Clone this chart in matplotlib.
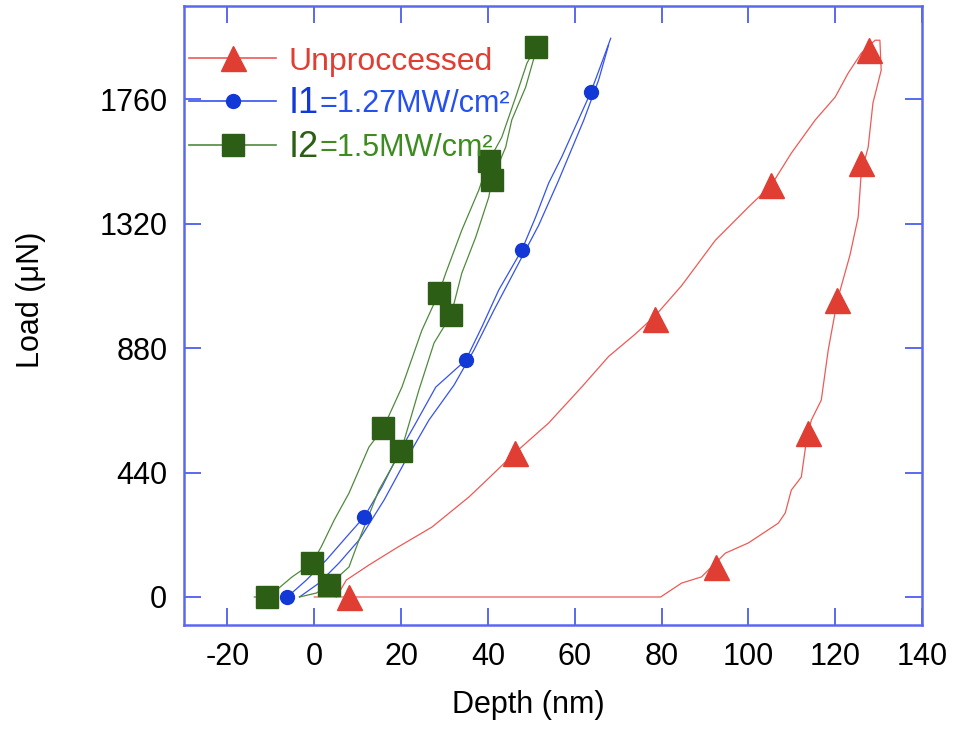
import matplotlib
matplotlib.use("Agg")
import matplotlib.pyplot as plt
from matplotlib.lines import Line2D
from matplotlib.transforms import IdentityTransform

plt.rcParams['font.family'] = ['Liberation Sans', 'DejaVu Sans']

# ---------------- data ----------------
# Unprocessed: loading, unloading, then baseline
red_x = [5.1, 7.4, 12.6, 18.9, 27.1, 35.6, 40.2, 46.2, 54.0, 61.6, 67.8, 74.0, 78.6,
         84.6, 92.4, 100.0, 105.3, 109.9, 115.4, 120.0, 123.0, 126.0, 129.2,
         130.3, 130.6, 128.7, 127.6, 126.0, 125.3, 123.4, 120.5, 118.4, 116.8, 114.5,
         113.3, 112.2, 109.9, 108.5, 106.9, 100.0, 94.7, 89.2, 84.6, 79.8, 40.0, 0.0]
red_y = [0, 60, 113, 173, 247, 353, 420, 509, 615, 742, 850, 930, 995,
         1100, 1261, 1378, 1456, 1569, 1686, 1767, 1852, 1922, 1968,
         1968, 1862, 1746, 1590, 1498, 1343, 1208, 1049, 873, 696, 625,
         544, 424, 378, 297, 261, 191, 155, 71, 49, 0, 0, 0]
red_mx = [8.0, 46.2, 78.6, 105.3, 127.8, 126.0, 120.5, 113.8, 92.6]
red_my = [0, 509, 983, 1456, 1933, 1534, 1049, 580, 106]

# I1 = 1.27 MW/cm2 : two branches
blue_x1 = [-6.2, -1.8, 2.8, 7.4, 11.5, 15.6, 19.5, 23.4, 28.0, 34.9, 38.6, 42.5,
           47.8, 51.0, 54.0, 57.0, 63.7, 66.2, 68.3]
blue_y1 = [0, 60, 131, 212, 283, 389, 509, 615, 742, 837, 954, 1085,
           1226, 1343, 1463, 1555, 1784, 1887, 1975]
blue_x2 = [-3.4, 1.1, 5.7, 10.3, 16.1, 20.7, 26.4, 32.2, 36.8, 41.4, 46.0, 51.7,
           56.3, 62.1, 65.5, 67.8]
blue_y2 = [0, 49, 120, 201, 343, 473, 625, 749, 873, 1014, 1148, 1314,
           1473, 1686, 1827, 1951]
blue_mx = [-6.2, 11.5, 34.9, 47.8, 63.7]
blue_my = [0, 283, 837, 1226, 1784]

# I2 = 1.5 MW/cm2 : two branches
green_x1 = [-13.8, -10.6, -5.1, -0.5, 1.6, 4.6, 8.0, 12.6, 15.9, 20.2, 24.8, 28.7,
            30.3, 34.0, 37.9, 40.2, 43.2, 46.4, 49.0, 51.0]
green_y1 = [0, 0, 71, 120, 177, 272, 367, 530, 597, 742, 943, 1074,
            1145, 1297, 1438, 1541, 1625, 1767, 1887, 1943]
green_x2 = [51.0, 48.7, 45.5, 44.1, 40.9, 40.2, 37.2, 34.0, 31.5, 27.6, 24.1, 20.0,
            14.9, 10.3, 8.0, 3.4, 0.5, -3.4]
green_y2 = [1926, 1802, 1686, 1590, 1473, 1413, 1272, 1145, 996, 898, 731, 516,
            378, 201, 106, 42, 14, 0]
green_mx = [-10.8, -0.5, 3.4, 15.9, 20.0, 28.7, 31.5, 40.2, 40.9, 51.0]
green_my = [0, 120, 42, 597, 516, 1074, 996, 1541, 1473, 1943]

x_ticks = [-20, 0, 20, 40, 60, 80, 100, 120, 140]
y_ticks = [0, 440, 880, 1320, 1760]

# ---------------- styling ----------------
RED_L, RED_M = '#ee5a55', '#e03e33'
BLUE_L, BLUE_M = '#3552ee', '#1238d6'
GREEN_L, GREEN_M = '#4f8a3c', '#2d5e15'
AX_C = '#5a68f0'

fig = plt.figure(figsize=(9.55, 7.38), dpi=100)
ax = fig.add_axes([184/955, 1-625/738, (922-184)/955, (625-6)/738])

ax.plot(red_x, red_y, color=RED_L, lw=0.9, zorder=2)
ax.plot(red_mx, red_my, ls='none', marker='^', ms=18, color=RED_M, mec=RED_M, zorder=4)

ax.plot(blue_x1, blue_y1, color=BLUE_L, lw=0.9, zorder=2)
ax.plot(blue_x2, blue_y2, color=BLUE_L, lw=0.9, zorder=2)
ax.plot(blue_mx, blue_my, ls='none', marker='o', ms=10, color=BLUE_M, mec=BLUE_M, zorder=4)

ax.plot(green_x1, green_y1, color=GREEN_L, lw=0.9, zorder=2)
ax.plot(green_x2, green_y2, color=GREEN_L, lw=0.9, zorder=2)
ax.plot(green_mx, green_my, ls='none', marker='s', ms=16, color=GREEN_M, mec=GREEN_M, zorder=4)

ax.set_xlim(-30, 139.5)
ax.set_ylim(-99, 2089)
ax.set_xticks(x_ticks)
ax.set_yticks(y_ticks)
ax.set_xticklabels([str(v) for v in x_ticks])
ax.set_yticklabels([str(v) for v in y_ticks])

for s in ax.spines.values():
    s.set_color(AX_C)
    s.set_linewidth(1.8)
ax.tick_params(axis='both', which='major', direction='in', length=12, width=1.4,
               color=AX_C, labelsize=22, top=True, right=True, pad=12)

ax.set_xlabel('Depth (nm)', fontsize=22)
ax.set_ylabel('Load (μN)', fontsize=22)
ax.xaxis.set_label_coords(0.466, -0.105)
ax.yaxis.set_label_coords(-0.187, 0.525)

handles = [
    Line2D([], [], color=RED_L, lw=1.2, marker='^', ms=18, mfc=RED_M, mec=RED_M),
    Line2D([], [], color=BLUE_L, lw=1.2, marker='o', ms=10, mfc=BLUE_M, mec=BLUE_M),
    Line2D([], [], color=GREEN_L, lw=1.2, marker='s', ms=16, mfc=GREEN_M, mec=GREEN_M),
]
leg = ax.legend(handles, ['Unproccessed', 'I1', 'I2'], loc='upper left',
                bbox_to_anchor=(-0.01, 0.955), frameon=False, fontsize=23,
                handlelength=2.7, handletextpad=0.4, labelspacing=0.28,
                borderaxespad=0.0)
txts = leg.get_texts()
txts[0].set_color(RED_M)
txts[1].set_color(BLUE_M)
txts[2].set_color(GREEN_M)
txts[1].set_fontsize(26)
txts[2].set_fontsize(26)

fig.canvas.draw()
renderer = fig.canvas.get_renderer()
extra = [('=1.27MW/cm²', '#2450f0'), ('=1.5MW/cm²', '#3c8c1f')]
for t, (s, c) in zip(txts[1:], extra):
    bb = t.get_window_extent(renderer)
    fig.text(bb.x1 + 1, bb.y0 + 2, s, fontsize=22, color=c, va='bottom', ha='left',
             transform=IdentityTransform())

fig.savefig('out.png', dpi=100)
